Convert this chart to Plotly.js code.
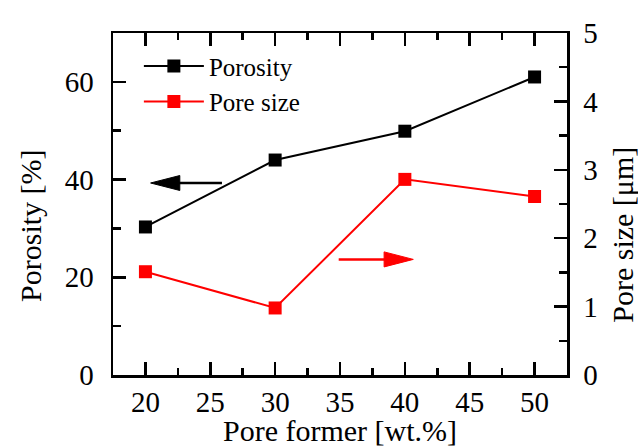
<!DOCTYPE html>
<html>
<head>
<meta charset="utf-8">
<script src="https://cdn.plot.ly/plotly-3.0.1.min.js"></script>
<style>html,body{margin:0;padding:0;background:#fff;}#chart{width:638px;height:447px;}</style>
</head>
<body>
<div id="chart"></div>
<script>
const poreFormer = [20, 30, 40, 50];
const porosity = [30.3, 44.0, 49.9, 61.0];
const poreSize = [1.51, 0.98, 2.86, 2.61];
const seriesNames = ["Porosity", "Pore size"];
const xTitle = "Pore former [wt.%]";
const yTitle = "Porosity [%]";
const y2Title = "Pore size [μm]";

const FONT = "Liberation Serif";

function font(size) { return {family: FONT, size: size, color: "#000000"}; }

const traces = [
  {x: poreFormer, y: porosity, name: seriesNames[0], type: "scatter", mode: "lines+markers",
   line: {color: "#000000", width: 2}, marker: {symbol: "square", size: 13, color: "#000000"}, yaxis: "y"},
  {x: poreFormer, y: poreSize, name: seriesNames[1], type: "scatter", mode: "lines+markers",
   line: {color: "#ff0000", width: 2}, marker: {symbol: "square", size: 13, color: "#ff0000"}, yaxis: "y2"}
];

function axisCommon() {
  return {
    showline: true, linecolor: "#000", linewidth: 2.5, ticks: "inside", tickwidth: 2.5, ticklen: 13,
    tickcolor: "#000", showgrid: false, zeroline: false, tickfont: font(29)
  };
}

const layout = {
  width: 638, height: 447,
  margin: {l: 113, r: 71, t: 33, b: 72, pad: 0},
  paper_bgcolor: "#fff", plot_bgcolor: "#fff",
  font: font(26),
  showlegend: true,
  legend: {x: 0.057, y: 0.97, xanchor: "left", yanchor: "top", bgcolor: "rgba(0,0,0,0)",
           font: font(25), itemwidth: 60, tracegroupgap: 0},
  xaxis: Object.assign(axisCommon(), {
    range: [17.5, 52.5], tick0: 20, dtick: 5, mirror: "ticks",
    minor: {dtick: 2.5, ticks: "inside", ticklen: 7, tickwidth: 2.5, tickcolor: "#000"},
    title: {text: xTitle, font: font(30)}
  }),
  yaxis: Object.assign(axisCommon(), {
    range: [0, 70], tick0: 0, dtick: 20, ticklabelstandoff: 11,
    minor: {dtick: 10, ticks: "inside", ticklen: 8, tickwidth: 2.5, tickcolor: "#000"}
  }),
  yaxis2: Object.assign(axisCommon(), {
    overlaying: "y", side: "right", range: [0, 5], tick0: 0, dtick: 1, ticklabelstandoff: 8,
    minor: {dtick: 0.5, ticks: "inside", ticklen: 8, tickwidth: 2.5, tickcolor: "#000"}
  }),
  annotations: [
    {text: yTitle, xref: "paper", yref: "paper", x: -0.1806, y: 0.436, xanchor: "center", yanchor: "middle",
     textangle: -90, showarrow: false, font: font(30)},
    {text: y2Title, xref: "paper", yref: "paper", x: 1.1233, y: 0.41, xanchor: "center", yanchor: "middle",
     textangle: -90, showarrow: false, font: font(30)}
  ],
  shapes: [
    {type: "line", xref: "x", yref: "y", x0: 22.4, x1: 25.9, y0: 39.3, y1: 39.3, line: {color: "#000", width: 2.5}},
    {type: "path", xref: "x", yref: "y", path: "M 20.4 39.3 L 22.65 40.83 L 22.65 37.77 Z",
     fillcolor: "#000", line: {color: "#000", width: 1}},
    {type: "line", xref: "x", yref: "y2", x0: 34.9, x1: 38.6, y0: 1.69, y1: 1.69, line: {color: "#ff0000", width: 2.5}},
    {type: "path", xref: "x", yref: "y2", path: "M 40.65 1.69 L 38.4 1.80 L 38.4 1.58 Z",
     fillcolor: "#ff0000", line: {color: "#ff0000", width: 1}}
  ]
};

Plotly.newPlot("chart", traces, layout, {displayModeBar: false, staticPlot: true});
</script>
</body>
</html>
